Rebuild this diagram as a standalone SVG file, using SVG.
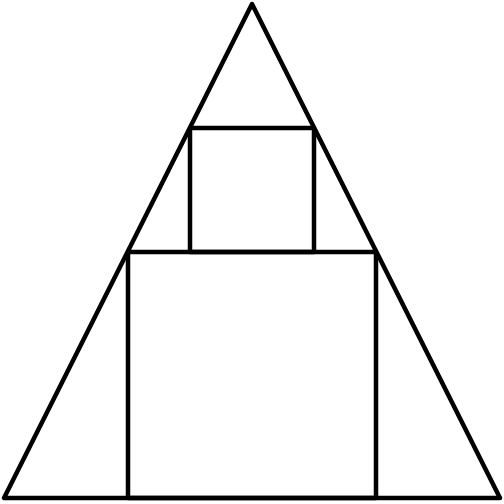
<svg xmlns="http://www.w3.org/2000/svg" width="504" height="504" viewBox="0 0 504 504">
<style>.s{fill:none;stroke:#000;stroke-width:4.5;stroke-linejoin:round;stroke-linecap:round}</style>
<rect width="504" height="504" fill="#fff"/>
<g id="triangle"><polygon class="s" points="252,4 4,498 500,498"/></g>
<g id="large-square"><rect class="s" x="128" y="252" width="248" height="246"/></g>
<g id="small-square"><rect class="s" x="190" y="128" width="124" height="124"/></g>
</svg>
